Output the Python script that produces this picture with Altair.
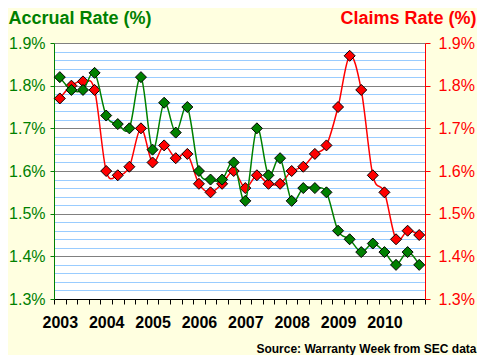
import altair as alt
import pandas as pd

years = [2003, 2004, 2005, 2006, 2007, 2008, 2009, 2010]
quarters = [f"{y}Q{q}" for y in years for q in range(1, 5)]
accrual = [1.82, 1.79, 1.79, 1.83, 1.73, 1.71, 1.70, 1.82,
           1.65, 1.76, 1.69, 1.75, 1.60, 1.58, 1.58, 1.62,
           1.53, 1.70, 1.59, 1.63, 1.53, 1.56, 1.56, 1.55,
           1.46, 1.44, 1.41, 1.43, 1.41, 1.38, 1.41, 1.38]
claims = [1.77, 1.80, 1.81, 1.79, 1.60, 1.59, 1.61, 1.70,
          1.62, 1.66, 1.63, 1.64, 1.57, 1.55, 1.57, 1.60,
          1.56, 1.59, 1.57, 1.57, 1.60, 1.61, 1.64, 1.66,
          1.75, 1.87, 1.79, 1.59, 1.55, 1.44, 1.46, 1.45]
y_domain = [1.3, 1.9]

GREEN = "#008000"
RED = "#FF0000"
FONT = "Liberation Sans"

df = pd.DataFrame({"idx": list(range(len(quarters))), "quarter": quarters,
                   "accrual": accrual, "claims": claims})

n = len(quarters)
major_test = "abs(datum.value*10 - round(datum.value*10)) < 0.001"
minor_vals = [round(y_domain[0] + 0.02 * k, 2) for k in range(31)]
major_vals = [round(y_domain[0] + 0.1 * k, 1) for k in range(7)]

x_axis = alt.Axis(
    values=[i - 0.5 for i in range(n + 1)],
    labelExpr=f"(datum.value + 0.5) % 4 == 0 && datum.value < {n - 1} ? '' + ({years[0]} + (datum.value + 0.5) / 4) : ''",
    labelOffset=5.8, labelOverlap=False, labelFlush=False, labelBound=False,
    labelFont=FONT, labelFontSize=16, labelFontWeight="bold", labelColor="black",
    labelPadding=10, labelBaseline="top",
    tickColor="black", tickSize=5, domainColor="black", grid=False,
    title="Source: Warranty Week from SEC data", titleFont=FONT, titleFontSize=12,
    titleFontWeight="bold", titleColor="black", titleAlign="right",
    titleBaseline="alphabetic", titleX=422, titleY=53,
)

x_enc = alt.X("idx:Q", scale=alt.Scale(domain=[-0.5, n - 0.5], nice=False, zero=False), axis=x_axis)

left_axis = alt.Axis(
    orient="left", values=minor_vals,
    labelExpr=f"{major_test} ? format(datum.value, '.1f') + '%' : ''",
    labelFont=FONT, labelFontSize=16, labelColor=GREEN, labelPadding=5,
    tickSize=4, tickColor={"condition": {"test": major_test, "value": GREEN}, "value": "transparent"},
    domainColor=GREEN, grid=True,
    gridColor={"condition": {"test": major_test, "value": "#808080"}, "value": "#99CCFF"},
    title="Accrual Rate (%)", titleFont=FONT, titleFontSize=18, titleFontWeight="bold",
    titleColor=GREEN, titleAngle=0, titleAlign="left", titleBaseline="alphabetic",
    titleX=-46, titleY=-20,
)

right_axis = alt.Axis(
    orient="right", values=major_vals,
    labelExpr="format(datum.value, '.1f') + '%'",
    labelFont=FONT, labelFontSize=16, labelColor=RED, labelPadding=8,
    tickSize=5, tickColor=RED, domainColor=RED, grid=False,
    title="Claims Rate (%)", titleFont=FONT, titleFontSize=18, titleFontWeight="bold",
    titleColor=RED, titleAngle=0, titleAlign="right", titleBaseline="alphabetic",
    titleX=51, titleY=-20,
)

base = alt.Chart(df).encode(x=x_enc)

red = base.mark_line(
    interpolate="cardinal", color=RED, strokeWidth=1.5,
    point=alt.OverlayMarkDef(shape="diamond", size=121, filled=True, fill=RED,
                             stroke="black", strokeWidth=1, opacity=1),
).encode(y=alt.Y("claims:Q", scale=alt.Scale(domain=y_domain, nice=False, zero=False), axis=right_axis))

green = base.mark_line(
    interpolate="cardinal", color=GREEN, strokeWidth=1.5,
    point=alt.OverlayMarkDef(shape="diamond", size=121, filled=True, fill=GREEN,
                             stroke="black", strokeWidth=1, opacity=1),
).encode(y=alt.Y("accrual:Q", scale=alt.Scale(domain=y_domain, nice=False, zero=False), axis=left_axis))

chart = alt.layer(red, green).resolve_scale(y="independent").properties(
    width=371, height=256,
    padding={"left": 46, "top": 35, "right": 52, "bottom": 56},
    autosize=alt.AutoSizeParams(type="none"),
    background="#FFFFE0",
).configure_view(fill="white", strokeOpacity=0)

chart.save("out.html", embed_options={"renderer": "svg", "actions": False})
